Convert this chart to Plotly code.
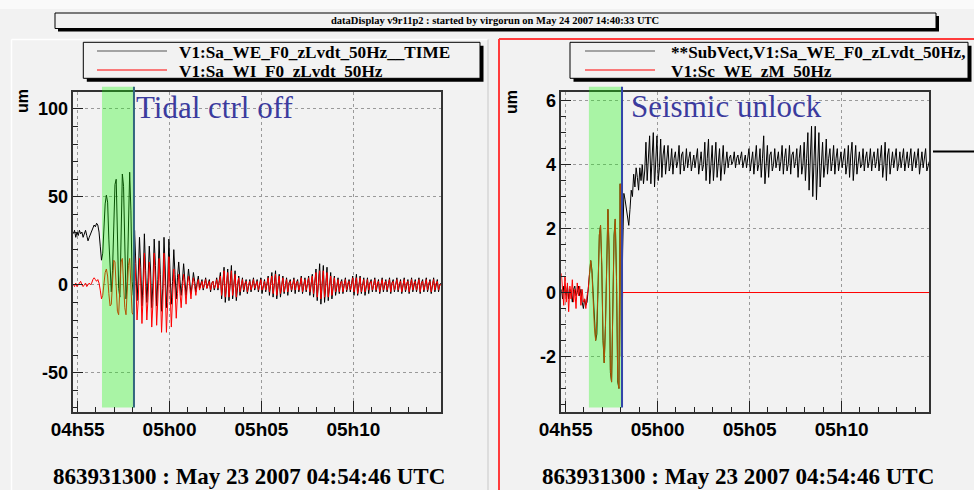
import pandas as pd
import plotly.graph_objects as go

W, H = 974, 490

# Sampling grid: 4 s steps from GPS 863931300 (2007-05-23 04:54:46 UTC) over 20 minutes
T0 = pd.Timestamp("2007-05-23 04:54:46")
STEP_S = 4

# ---- left pad: WE / WI LVDT signals (um), one row per minute -------------
sa_we_lvdt = [
    29, 31, 27, 30, 28, 31, 29, 30, 27, 29, 31, 28, 25, 27, 29,
    30, 32, 34, 33, 35, 34, 30, 22, 14, 18, 32, 46, 51, 47, 26,
    6, -4, 8, 34, 57, 60, 32, -2, -7, 22, 63, 56, 12, -8, 2,
    44, 64, 42, 2, -6, 31, 12, -9, 5, 27, 10, -12, 3, 29, 8,
    -10, 4, 22, 9, -13, 1, 26, 11, -12, 3, 25, 6, -15, -2, 27,
    9, -13, 1, 26, 5, -11, 2, 20, 6, -8, 4, 13, 3, -6, 2,
    12, 3, -6, 1, 9, 2, -5, 0, 7, 2, -4, 1, 5, -2, 1,
    3, -3, 1, 4, -2, 0, 3, -4, 1, 2, -3, 0, 4, -3, 1,
    7, -8, 1, 10, -10, 2, 9, -9, 0, 11, -8, 2, 8, -9, 1,
    5, -6, 0, 4, -4, 1, 3, -5, 0, 3, -4, 1, 4, -3, 0,
    3, -4, 1, 4, -5, 0, 3, -4, 1, 5, -6, 0, 7, -7, 1,
    8, -8, 0, 6, -7, 1, 5, -5, 0, 4, -6, 1, 3, -4, 0,
    4, -5, 1, 3, -4, 0, 5, -5, 1, 4, -4, 0, 5, -6, 1,
    6, -7, 0, 9, -9, 1, 12, -11, 0, 11, -10, 1, 10, -9, 0,
    7, -8, 1, 5, -6, 0, 4, -5, 1, 3, -5, 0, 4, -4, 1,
    3, -4, 0, 5, -6, 1, 6, -6, 0, 5, -5, 1, 4, -6, 0,
    4, -5, 1, 3, -4, 0, 4, -4, 1, 3, -5, 0, 4, -4, 1,
    3, -4, 0, 4, -5, 1, 3, -4, 0, 4, -4, 1, 3, -5, 0,
    4, -4, 1, 3, -5, 0, 4, -4, 1, 3, -4, 0, 4, -5, 1,
    3, -4, 0, 4, -4, 1, 3, -5, 0, 4, -4, 1, 3, -4, 0,
    1,
]

sa_wi_lvdt = [
    0, -1, 1, -1, 0, 1, 2, 0, -1, 0, 1, -1, 0, 1, 0,
    1, 3, 4, 3, 2, 3, 1, -3, -8, -6, 0, 7, 9, 5, -5,
    -12, -11, 2, 14, 13, -2, -15, -17, -5, 13, 15, 4, -13, -17, -6,
    11, 15, 3, -16, -17, 17, 2, -20, -9, 15, 1, -22, -6, 18, -1,
    -20, -7, 13, 0, -24, -10, 18, 2, -23, -8, 15, -1, -27, -11, 18,
    -2, -27, -10, 16, -4, -24, -7, 9, -3, -19, -5, 6, -4, -13, -2,
    6, -2, -11, 0, 5, -1, -8, 0, 4, -1, -6, 0, 3, -3, 0,
    2, -2, 1, 3, -2, 0, 2, -3, 1, 2, -2, 0, 3, -2, 1,
    5, -6, 1, 8, -7, 1, 7, -7, 0, 8, -6, 1, 6, -7, 1,
    4, -4, 0, 3, -3, 1, 2, -4, 0, 2, -3, 1, 3, -2, 0,
    2, -3, 1, 3, -3, 0, 2, -3, 1, 4, -4, 0, 5, -5, 1,
    6, -6, 0, 5, -5, 1, 4, -4, 0, 3, -4, 1, 2, -3, 0,
    3, -3, 1, 2, -3, 0, 4, -4, 1, 3, -3, 0, 4, -4, 1,
    5, -5, 0, 7, -7, 1, 8, -8, 0, 8, -7, 1, 7, -7, 0,
    5, -6, 1, 4, -4, 0, 3, -4, 1, 2, -4, 0, 3, -3, 1,
    2, -3, 0, 4, -4, 1, 4, -5, 0, 4, -4, 1, 3, -4, 0,
    3, -3, 1, 2, -3, 0, 3, -3, 1, 2, -4, 0, 3, -3, 1,
    2, -3, 0, 3, -4, 1, 2, -3, 0, 3, -3, 1, 2, -4, 0,
    3, -3, 1, 2, -4, 0, 3, -3, 1, 2, -3, 0, 3, -4, 1,
    2, -3, 0, 3, -3, 1, 2, -4, 0, 3, -3, 1, 2, -3, 0,
    0,
]

# ---- right pad: SubVect (WE LVDT) and WE marionette zM (um) --------------
subvect_we = [
    0.1, -0.2, 0.2, 0.0, -0.1, 0.2, -0.2, 0.1, 0.0, -0.3, 0.1, 0.2, -0.1, 0.0, 0.2,
    -0.1, 0.1, -0.3, -0.5, -0.2, -0.4, -0.3, 0.1, 0.6, 1.0, 0.7, -0.2, -1.0, -1.5, -1.3,
    0.3, 1.8, 2.1, 0.8, -1.5, -2.2, -1.0, 1.5, 2.6, 1.2, -2.5, -2.8, -0.8, 1.8, 2.3,
    0.5, -2.8, -3.0, 3.4, -2.0, 1.3, 3.1, 2.9, 2.6, 2.4, 2.1, 2.6, 3.2, 3.0, 3.7,
    3.3, 3.9, 3.6, 3.2, 3.9, 3.5, 4.0, 3.4, 3.8, 4.7, 3.5, 4.1, 4.9, 3.4, 4.3,
    5.0, 3.3, 4.2, 4.9, 3.5, 3.9, 4.8, 3.6, 4.3, 4.6, 3.7, 4.1, 4.6, 3.8, 4.0,
    4.5, 3.7, 4.2, 4.4, 3.9, 4.1, 4.6, 3.7, 4.3, 4.4, 3.8, 4.0, 4.5, 3.9, 4.2,
    4.4, 3.8, 4.1, 4.3, 3.9, 4.2, 4.5, 3.7, 4.1, 4.4, 3.8, 4.0, 4.7, 3.5, 4.2,
    4.8, 3.4, 4.0, 4.6, 3.5, 4.3, 4.7, 3.6, 4.1, 4.5, 3.5, 4.2, 4.6, 3.7, 4.0,
    4.4, 3.9, 4.2, 4.3, 4.0, 4.1, 4.4, 3.9, 4.2, 4.3, 4.0, 4.2, 4.4, 3.9, 4.1,
    4.3, 3.9, 4.2, 4.5, 3.8, 4.1, 4.4, 3.7, 4.2, 4.6, 3.8, 4.0, 4.5, 3.6, 4.2,
    4.9, 3.4, 4.1, 4.6, 3.6, 4.3, 4.4, 3.8, 4.0, 4.5, 3.9, 4.2, 4.4, 3.8, 4.1,
    4.6, 3.7, 4.2, 4.5, 3.8, 4.0, 4.6, 3.7, 4.3, 4.4, 3.9, 4.1, 4.5, 3.6, 4.2,
    4.6, 3.7, 4.0, 4.7, 3.5, 4.2, 5.0, 3.2, 4.1, 5.2, 3.0, 4.3, 5.2, 2.9, 4.0,
    5.0, 3.3, 4.2, 4.7, 3.6, 4.0, 4.8, 3.7, 4.2, 4.5, 3.8, 4.1, 4.6, 3.7, 4.2,
    4.5, 3.8, 4.1, 4.4, 3.9, 4.2, 4.5, 3.7, 4.0, 4.6, 3.6, 4.3, 4.7, 3.5, 4.1,
    4.6, 3.7, 4.2, 4.4, 3.9, 4.0, 4.5, 3.8, 4.2, 4.4, 3.9, 4.1, 4.5, 3.8, 4.2,
    4.4, 3.9, 4.1, 4.5, 3.8, 4.2, 4.6, 3.6, 4.0, 4.7, 3.5, 4.3, 4.5, 3.7, 4.1,
    4.4, 3.9, 4.2, 4.5, 3.8, 4.0, 4.4, 3.9, 4.2, 4.5, 3.8, 4.1, 4.4, 3.9, 4.2,
    4.5, 3.8, 4.1, 4.4, 3.9, 4.2, 4.5, 3.7, 4.1, 4.4, 3.9, 4.2, 4.5, 3.8, 4.0,
    4.1,
]

# zM follows the LVDT until the unlock, then stays at 0 to the end of the span
sc_we_zm = [
    0.6, 0.2, -0.4, 0.5, -0.3, 0.3, -0.6, 0.2, -0.2, 0.4, -0.3, 0.1, -0.5, 0.3, -0.1,
    0.2, -0.4, 0.1, -0.3, -0.2, -0.5, -0.1, 0.1, 0.6, 1.0, 0.6, -0.3, -1.1, -1.5, -0.9,
    0.2, 1.8, 2.1, 0.9, -1.4, -2.2, -1.1, 1.4, 2.6, 1.3, -2.4, -2.8, -0.9, 1.7, 2.3,
    0.4, -2.7, -3.0, 3.4, -2.0, 0.0,
    0.0,
]

# Time marks (seconds from start): highlighted window and event line
window_start_left, window_start_right = 93.6, 90.0
event_s = 198.0

left_legend = ["V1:Sa_WE_F0_zLvdt_50Hz__TIME", "V1:Sa_WI_F0_zLvdt_50Hz"]
right_legend = ["**SubVect,V1:Sa_WE_F0_zLvdt_50Hz,", "V1:Sc_WE_zM_50Hz"]
title_text = "dataDisplay v9r11p2 : started by virgorun on May 24 2007 14:40:33 UTC"
time_caption = "863931300 : May 23 2007 04:54:46 UTC"

times = [T0 + pd.Timedelta(seconds=STEP_S * i) for i in range(len(sa_we_lvdt))]
T_END = times[-1]
times_zm = times[:len(sc_we_zm) - 1] + [T_END]


def ts(sec):
    return T0 + pd.Timedelta(seconds=sec)


def px(x):
    return x / W


def py(y):
    return 1 - y / H


BG = "#f2f2f2"
fig = go.Figure()

for xa, ya, black, red, tred in (("x", "y", sa_we_lvdt, sa_wi_lvdt, times),
                                 ("x2", "y2", subvect_we, sc_we_zm, times_zm)):
    fig.add_trace(go.Scatter(x=times, y=black, mode="lines", xaxis=xa, yaxis=ya,
                             line=dict(color="#000000", width=1), showlegend=False,
                             hoverinfo="skip"))
    fig.add_trace(go.Scatter(x=tred, y=red, mode="lines", xaxis=xa, yaxis=ya,
                             line=dict(color="#ff0000", width=1), showlegend=False,
                             hoverinfo="skip"))

tick_font = dict(family="Liberation Sans", size=19, color="#000", weight="bold")


def x_axis(x0, x1, anchor):
    return dict(
        type="date", domain=[px(x0), px(x1)], anchor=anchor, automargin=False,
        range=[T0, T_END], tickformat="%Hh%M", dtick=300000,
        tick0="2007-05-23 04:55:00", ticks="inside", ticklen=11, tickwidth=1,
        tickcolor="#222", showline=True, linecolor="#333", linewidth=1.5,
        mirror=True, showgrid=True, gridcolor="#9a9a9a", griddash="dot",
        gridwidth=1, zeroline=False, tickfont=tick_font, fixedrange=True,
        minor=dict(ticks="inside", ticklen=5, dtick=60000, tickcolor="#222",
                   showgrid=False),
    )


def y_axis(rng, vals, minor_step, anchor):
    return dict(
        domain=[py(411.5), py(92)], anchor=anchor, range=rng, automargin=False,
        tickmode="array", tickvals=vals, ticktext=[str(v) for v in vals],
        ticks="inside", ticklen=10, tickwidth=1, tickcolor="#222",
        showline=True, linecolor="#333", linewidth=1.5, mirror=True,
        showgrid=True, gridcolor="#9a9a9a", griddash="dot", gridwidth=1,
        zeroline=False, tickfont=dict(tick_font, size=18), fixedrange=True,
        minor=dict(ticks="inside", ticklen=5, dtick=minor_step, tick0=0,
                   tickcolor="#222", showgrid=False),
    )


fig.update_layout(
    width=W, height=H, margin=dict(l=0, r=0, t=0, b=0, autoexpand=False),
    paper_bgcolor=BG, plot_bgcolor=BG,
    xaxis=x_axis(73.3, 441, "y"),
    yaxis=y_axis([-72, 109.6], [-50, 0, 50, 100], 10, "x"),
    xaxis2=x_axis(561.3, 929.3, "y2"),
    yaxis2=y_axis([-3.72, 6.27], [-2, 0, 2, 4, 6], 0.5, "x2"),
    showlegend=False,
)

shapes = []
# page strip, panel borders
shapes.append(dict(type="rect", xref="paper", yref="paper", x0=0, x1=1,
                   y0=py(9), y1=1, fillcolor="#fafafa", line=dict(width=0), layer="below"))
shapes.append(dict(type="line", xref="paper", yref="paper", x0=px(11.5), x1=px(488),
                   y0=py(39.5), y1=py(39.5), line=dict(color="#ffffff", width=1.5)))
shapes.append(dict(type="line", xref="paper", yref="paper", x0=px(11.5), x1=px(11.5),
                   y0=py(39.5), y1=0, line=dict(color="#ffffff", width=1.5)))
shapes.append(dict(type="line", xref="paper", yref="paper", x0=px(488), x1=px(488),
                   y0=py(39.5), y1=0, line=dict(color="#c8c8c8", width=1)))
shapes.append(dict(type="line", xref="paper", yref="paper", x0=px(499), x1=1,
                   y0=py(39), y1=py(39), line=dict(color="#ff3c3c", width=2)))
shapes.append(dict(type="line", xref="paper", yref="paper", x0=px(499), x1=px(499),
                   y0=py(39), y1=0, line=dict(color="#ff3c3c", width=2)))


def boxed(x0, x1, y0, y1, sh=3.5):
    return [
        dict(type="rect", xref="paper", yref="paper", x0=px(x0 + sh), x1=px(x1 + sh),
             y0=py(y1 + sh), y1=py(y0 + sh), fillcolor="#000", line=dict(width=0)),
        dict(type="rect", xref="paper", yref="paper", x0=px(x0), x1=px(x1),
             y0=py(y1), y1=py(y0), fillcolor=BG, line=dict(color="#000", width=1)),
    ]


shapes += boxed(55, 936, 13, 28.5, sh=3)
shapes += boxed(83.3, 480, 42.3, 78.3)
shapes += boxed(570, 968, 42.3, 78.3)

# legend samples
for x0, x1 in ((97, 167), (585, 655)):
    shapes.append(dict(type="line", xref="paper", yref="paper", x0=px(x0), x1=px(x1),
                       y0=py(51), y1=py(51), line=dict(color="#555", width=1.2)))
    shapes.append(dict(type="line", xref="paper", yref="paper", x0=px(x0), x1=px(x1),
                       y0=py(70), y1=py(70), line=dict(color="#ff0000", width=1.2)))

# highlighted window and event marker
for xa, start, lc in (("x", window_start_left, "#33667e"), ("x2", window_start_right, "#3344aa")):
    shapes.append(dict(type="rect", xref=xa, yref="paper", x0=ts(start), x1=ts(event_s),
                       y0=py(407.5), y1=py(86.7), fillcolor="rgba(20,250,10,0.33)",
                       line=dict(width=0), layer="above"))
    shapes.append(dict(type="line", xref=xa, yref="paper", x0=ts(event_s), x1=ts(event_s),
                       y0=py(407.5), y1=py(86.7), line=dict(color=lc, width=2), layer="above"))

# stub of the next pad's trace at the right edge
shapes.append(dict(type="line", xref="paper", yref="paper", x0=px(933), x1=1,
                   y0=py(151.5), y1=py(151.5), line=dict(color="#000", width=2)))

annotations = []


def text(x, y, s, size, family, color="#000", weight="bold", xanchor="left", angle=0):
    annotations.append(dict(xref="paper", yref="paper", x=px(x), y=py(y), text=s,
                            showarrow=False, xanchor=xanchor, yanchor="middle",
                            textangle=angle, borderpad=0,
                            font=dict(family=family, size=size, color=color, weight=weight)))


text(495, 21, title_text, 10.5, "Liberation Serif", xanchor="center")
text(178, 53, left_legend[0], 17.2, "Liberation Serif")
text(178, 71.5, left_legend[1], 17.2, "Liberation Serif")
text(670, 53, right_legend[0], 17.2, "Liberation Serif")
text(670, 71.5, right_legend[1], 17.2, "Liberation Serif")
text(135, 108, "Tidal ctrl off", 31, "Liberation Serif", color="#3b3b9e", weight="normal")
text(630, 106, "Seismic unlock", 31, "Liberation Serif", color="#3b3b9e", weight="normal")
text(22, 101, "um", 16, "Liberation Sans", xanchor="center", angle=-90)
text(511, 102, "um", 16, "Liberation Sans", xanchor="center", angle=-90)
text(249.5, 476, time_caption, 23, "Liberation Serif", xanchor="center")
text(738, 476, time_caption, 23, "Liberation Serif", xanchor="center")

fig.update_layout(shapes=shapes, annotations=annotations)
fig.write_html("out.html")
